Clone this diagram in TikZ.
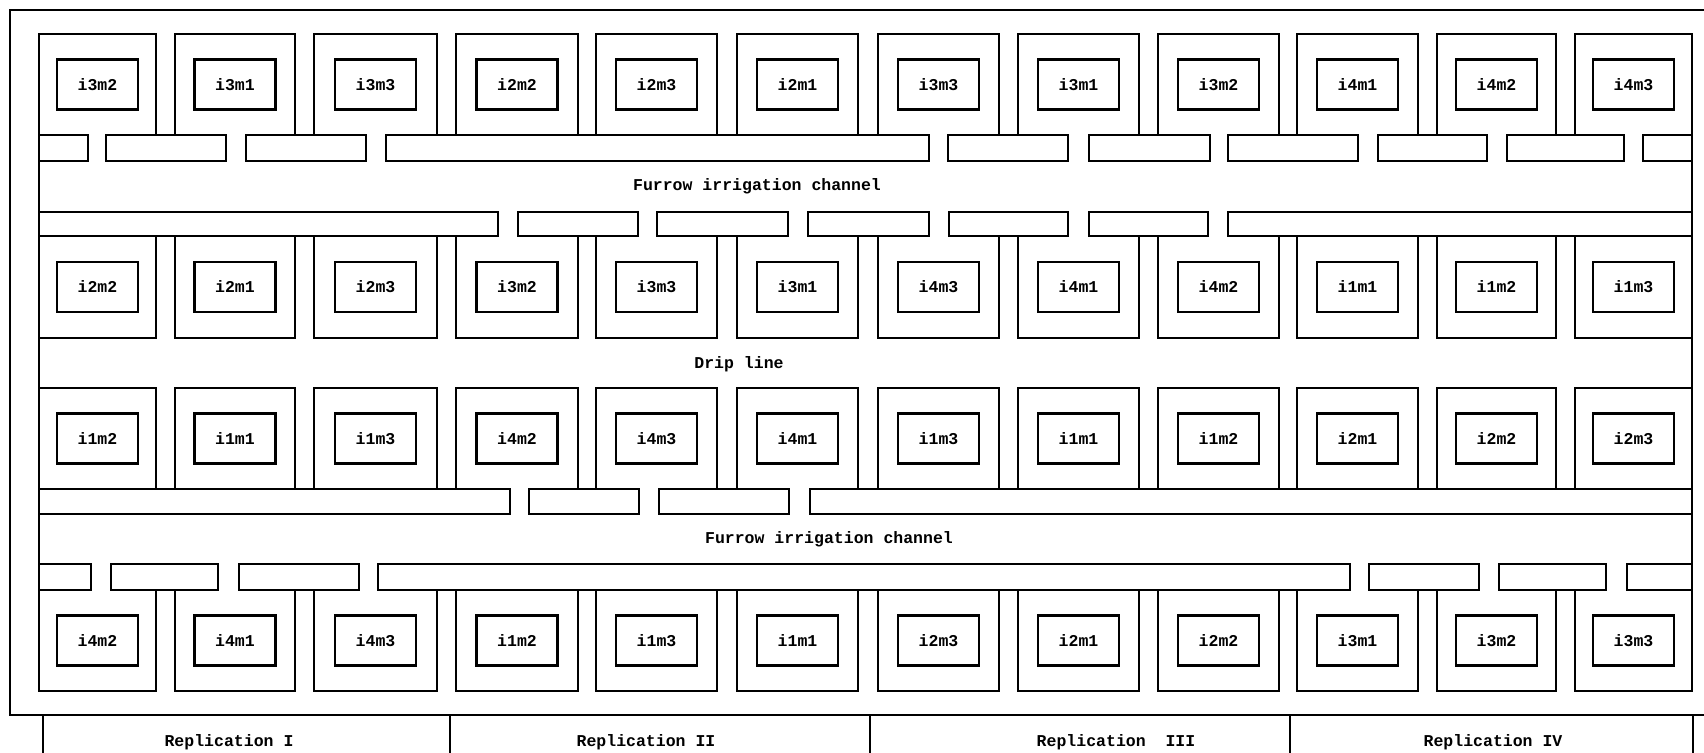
\documentclass[tikz,border=0pt]{standalone}
\usepackage{fontspec}
\setmonofont{Liberation Mono}
\usetikzlibrary{positioning}

\begin{document}
\begin{tikzpicture}[
  x=0.2mm, y=-0.2mm,
  wall/.style={draw,line width=1.2pt,line cap=rect,line join=miter},
  plotlbl/.style={draw,line width=1.2pt,minimum width=16.2mm,minimum height=10mm,inner sep=0pt,font=\ttfamily\bfseries\fontsize{9.4}{11}\selectfont},
  lbl/.style={inner sep=0pt,font=\ttfamily\bfseries\fontsize{9.4}{11}\selectfont}
]
\useasboundingbox (0,0) rectangle (1704,753);
\def\colL{{39,175,314,456,596,737,878,1018,1158,1297,1437,1575}}
\def\colR{{156,295,437,578,717,858,999,1139,1279,1418,1556,1692}}

\draw[wall] (1704,10) -- (10,10) -- (10,715) -- (1704,715);
\draw[wall] (39,34) -- (39,691);
\draw[wall] (1692,34) -- (1692,691);

\foreach \yo/\yc/\labs [count=\r] in {
  135/34/{i3m2,i3m1,i3m3,i2m2,i2m3,i2m1,i3m3,i3m1,i3m2,i4m1,i4m2,i4m3},
  236/338/{i2m2,i2m1,i2m3,i3m2,i3m3,i3m1,i4m3,i4m1,i4m2,i1m1,i1m2,i1m3},
  489/388/{i1m2,i1m1,i1m3,i4m2,i4m3,i4m1,i1m3,i1m1,i1m2,i2m1,i2m2,i2m3},
  590/691/{i4m2,i4m1,i4m3,i1m2,i1m3,i1m1,i2m3,i2m1,i2m2,i3m1,i3m2,i3m3}}{
  \foreach \lab [count=\c from 0] in \labs {
    \pgfmathsetmacro\xl{\colL[\c]}
    \pgfmathsetmacro\xr{\colR[\c]}
    \draw[wall] (\xl,\yo) -- (\xl,\yc) -- (\xr,\yc) -- (\xr,\yo);
    \node[plotlbl] (p\r-\c) at ({(\xl+\xr)/2},{(\yo+\yc)/2}) {\lab};
  }
}

\foreach \a/\b in {39/88,106/226,246/366,386/929,948/1068,1089/1210,1228/1358,1378/1487,1507/1624,1643/1692}
  \draw[wall] (\a,135) rectangle (\b,161);
\foreach \a/\b in {39/498,518/638,657/788,808/929,949/1068,1089/1208,1228/1692}
  \draw[wall] (\a,212) rectangle (\b,236);
\foreach \a/\b in {39/510,529/639,659/789,810/1692}
  \draw[wall] (\a,489) rectangle (\b,514);
\foreach \a/\b in {39/91,111/218,239/359,378/1350,1369/1479,1499/1606,1627/1692}
  \draw[wall] (\a,564) rectangle (\b,590);

\node[lbl] (chan1) at (757,186) {Furrow irrigation channel};
\node[lbl] (drip) at (739,364) {Drip line};
\node[lbl] (chan2) at (829,539) {Furrow irrigation channel};

\foreach \x in {43,450,870,1290,1693}
  \draw[wall] (\x,715) -- (\x,753);
\node[lbl] (rep1) at (229,742) {Replication I};
\node[lbl] (rep2) at (646,742) {Replication II};
\node[lbl] (rep3) at (1116,742) {Replication\ \ III};
\node[lbl] (rep4) at (1493,742) {Replication IV};
\end{tikzpicture}
\end{document}
